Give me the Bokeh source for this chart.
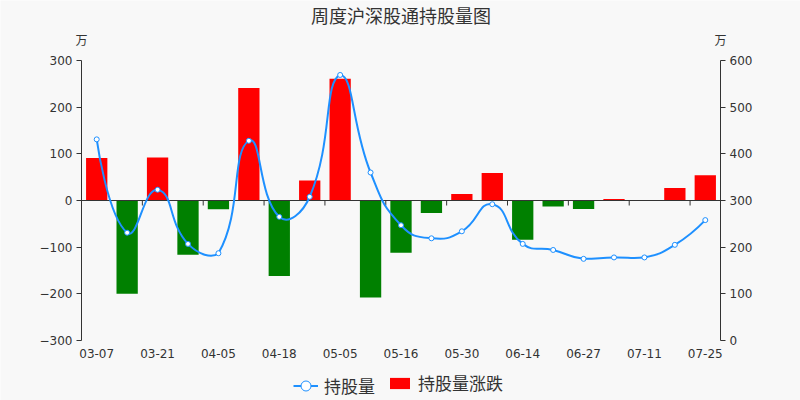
from bokeh.plotting import figure
from bokeh.models import (Range1d, LinearAxis, FixedTicker, Label, Legend, LegendItem)
from bokeh.embed import file_html
from bokeh.resources import INLINE
import math

# ---------------- data ----------------
dates = ["03-07", "03-14", "03-21", "03-28", "04-05", "04-11", "04-18", "04-25",
         "05-05", "05-09", "05-16", "05-23", "05-30", "06-06", "06-14", "06-20",
         "06-27", "07-04", "07-11", "07-18", "07-25"]
change = [91, -200, 92, -116, -19, 241, -162, 43, 261, -208, -112, -27, 14, 59,
          -84, -13, -18, 3, 0, 27, 54]
holding = [431, 231, 323, 207, 187, 428, 265, 308, 569, 360, 247, 219, 234, 292,
           207, 194, 175, 178, 178, 205, 258]
left_ticks = [-300, -200, -100, 0, 100, 200, 300]
right_ticks = [0, 100, 200, 300, 400, 500, 600]
title_text = "周度沪深股通持股量图"
unit_text = "万"
legend_line = "持股量"
legend_bar = "持股量涨跌"

# ---------------- style / layout ----------------
BG = "#f8f8f8"
TXT = "#333333"
BLUE = "#1e90ff"
RED = "#ff0000"
GREEN = "#008000"
W, H = 800, 400
FL, FR, FT, FB = 81, 720, 60, 340      # plotting area in canvas pixels

n = len(dates)
idx = list(range(n))
L_MIN, L_MAX = left_ticks[0], left_ticks[-1]
R_MIN, R_MAX = right_ticks[0], right_ticks[-1]

kx = (FR - FL) / n                      # px per category
kyl = (FB - FT) / (L_MAX - L_MIN)       # px per unit (left)
kyr = (FB - FT) / (R_MAX - R_MIN)       # px per unit (right)

x_range = Range1d(-0.5 - FL / kx, n - 0.5 + (W - FR) / kx)
y_range = Range1d(L_MIN - (H - FB) / kyl, L_MAX + FT / kyl)
r_range = Range1d(R_MIN - (H - FB) / kyr, R_MAX + FT / kyr)

p = figure(width=W, height=H, output_backend="svg", toolbar_location=None,
           x_range=x_range, y_range=y_range,
           x_axis_location=None, y_axis_location=None,
           min_border_left=0, min_border_right=0, min_border_top=0, min_border_bottom=0,
           background_fill_color=BG, border_fill_color=BG, outline_line_color=None)
p.extra_y_ranges = {"right": r_range}
p.xgrid.visible = False
p.ygrid.visible = False

# bottom axis: labels only, fixed at the bottom of the plotting area
xa = LinearAxis(fixed_location=L_MIN, ticker=FixedTicker(ticks=idx[::2]))
xa.major_label_overrides = {i: dates[i] for i in idx}
xa.axis_line_color = None
xa.major_tick_line_color = None
xa.minor_tick_line_color = None
xa.major_tick_out = 0
xa.major_label_standoff = 8
xa.major_label_text_font = "DejaVu Sans"
xa.major_label_text_font_size = "12px"
xa.major_label_text_color = TXT
p.add_layout(xa, "below")

ya = LinearAxis(fixed_location=-0.5, bounds=(L_MIN, L_MAX), ticker=FixedTicker(ticks=left_ticks))
ra = LinearAxis(y_range_name="right", fixed_location=n - 0.5, bounds=(R_MIN, R_MAX),
                ticker=FixedTicker(ticks=right_ticks))
for ax in (ya, ra):
    ax.axis_line_color = TXT
    ax.major_tick_line_color = TXT
    ax.minor_tick_line_color = None
    ax.major_tick_in = 0
    ax.major_tick_out = 5
    ax.major_label_standoff = 4
    ax.major_label_text_font = "DejaVu Sans"
    ax.major_label_text_font_size = "12px"
    ax.major_label_text_color = TXT
p.add_layout(ya, "left")
p.add_layout(ra, "right")

# bars
colors = [RED if v >= 0 else GREEN for v in change]
bars = p.vbar(x=idx, top=change, bottom=0, width=0.7, fill_color=colors, line_color=None)

# zero axis line with category ticks
p.segment(x0=[-0.5], y0=[0], x1=[n - 0.5], y1=[0], line_color=TXT, line_width=1)
tick_x = [i - 0.5 for i in idx[::2]]
p.segment(x0=tick_x, y0=[0] * len(tick_x), x1=tick_x, y1=[-5 / kyl] * len(tick_x),
          line_color=TXT, line_width=1)

# smoothed line (echarts-like bezier smoothing in pixel space)
pts = [(i * kx, v * kyr) for i, v in zip(idx, holding)]
smooth = 0.5
xmin = min(q[0] for q in pts); xmax = max(q[0] for q in pts)
ymin = min(q[1] for q in pts); ymax = max(q[1] for q in pts)

def clamp(c):
    return (min(max(c[0], xmin), xmax), min(max(c[1], ymin), ymax))

x0s, y0s, x1s, y1s, c0x, c0y, c1x, c1y = [], [], [], [], [], [], [], []
cp0 = pts[0]
for i in range(1, n):
    pt = pts[i]
    if i == n - 1:
        cp1 = pt
        nxt_cp0 = pt
    else:
        prv, nxt = pts[i - 1], pts[i + 1]
        vx, vy = nxt[0] - prv[0], nxt[1] - prv[1]
        d0 = math.hypot(pt[0] - prv[0], pt[1] - prv[1])
        d1 = math.hypot(pt[0] - nxt[0], pt[1] - nxt[1])
        r = d1 / (d0 + d1)
        cp1 = (pt[0] - vx * smooth * (1 - r), pt[1] - vy * smooth * (1 - r))
        nxt_cp0 = (pt[0] + vx * smooth * r, pt[1] + vy * smooth * r)
    a = clamp(cp0); b = clamp(cp1)
    x0s.append(pts[i - 1][0] / kx); y0s.append(pts[i - 1][1] / kyr)
    x1s.append(pt[0] / kx); y1s.append(pt[1] / kyr)
    c0x.append(a[0] / kx); c0y.append(a[1] / kyr)
    c1x.append(b[0] / kx); c1y.append(b[1] / kyr)
    cp0 = nxt_cp0

curve = p.bezier(x0=x0s, y0=y0s, x1=x1s, y1=y1s, cx0=c0x, cy0=c0y, cx1=c1x, cy1=c1y,
                 line_color=BLUE, line_width=2, y_range_name="right")
dots = p.scatter(x=idx, y=holding, size=5, marker="circle", fill_color="white",
                 line_color=BLUE, line_width=1, y_range_name="right")

# texts
p.add_layout(Label(x=(n - 1) / 2, y=L_MAX, y_offset=46, text=title_text, text_align="center",
                   text_baseline="middle", text_font="Noto Sans CJK SC",
                   text_font_size="18px", text_color=TXT))
p.add_layout(Label(x=-0.5, y=L_MAX, y_offset=21, text=unit_text, text_align="center",
                   text_baseline="middle", text_font="Noto Sans CJK SC",
                   text_font_size="12px", text_color=TXT))
p.add_layout(Label(x=n - 0.5, y=L_MAX, y_offset=21, text=unit_text, text_align="center",
                   text_baseline="middle", text_font="Noto Sans CJK SC",
                   text_font_size="12px", text_color=TXT))

common = dict(orientation="horizontal", glyph_width=25, label_standoff=6, spacing=10,
              padding=0, margin=0, label_height=20,
              label_text_font="Noto Sans CJK SC", label_text_font_size="17px",
              label_text_color=TXT, background_fill_alpha=0, border_line_color=None)
legend1 = Legend(items=[LegendItem(label=legend_line, renderers=[curve, dots])],
                 location=(293, 2.5), glyph_height=25, **common)
legend2 = Legend(items=[LegendItem(label=legend_bar, renderers=[bars], index=0)],
                 location=(387, 5), glyph_height=14, **common)
p.add_layout(legend1, "center")
p.add_layout(legend2, "center")

open("out.html", "w").write(file_html(p, INLINE))
